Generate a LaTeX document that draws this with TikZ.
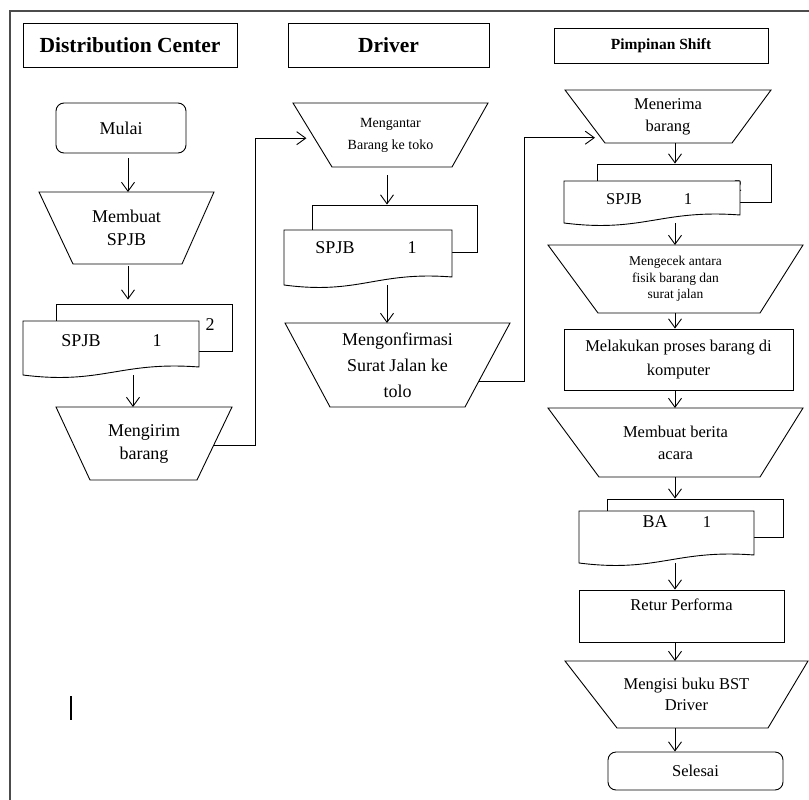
\documentclass[tikz,border=0pt]{standalone}
\usepackage{fontspec}
\setmainfont{Liberation Serif}
\usetikzlibrary{arrows.meta,calc}

\tikzset{
	lanehead/.style={draw, line width=0.9pt, font=\fontsize{21.5}{26}\selectfont\bfseries, inner sep=0pt},
	termnode/.style={draw, line width=0.9pt, rounded corners=8pt, inner sep=0pt},
	manop/.style={align=center, inner sep=0pt, outer sep=0pt},
	procnode/.style={draw, line width=0.9pt, align=center, inner sep=0pt},
	docback/.style={draw, line width=0.9pt, inner sep=0pt},
	docfront/.style={inner sep=0pt, outer sep=0pt},
	txtbig/.style={font=\fontsize{18}{23}\selectfont},
	txtmid/.style={font=\fontsize{16.5}{22}\selectfont},
	txtsmall/.style={font=\fontsize{14}{22}\selectfont},
	arr/.style={-{Straight Barb[length=9pt,width=13pt]}, line width=0.9pt},
}

\begin{document}
\begin{tikzpicture}[x=1pt,y=-1pt]

	\useasboundingbox (0,0) rectangle (809,800);

	% frame
	\draw[line width=1.6pt, black!70] (809,11) -- (10,11) -- (10,800);

	% lane headers
	\node[lanehead, minimum width=214pt, minimum height=44pt] (headDC) at (130,45) {Distribution Center};
	\node[lanehead, minimum width=201pt, minimum height=44pt] (headDrv) at (388.5,45) {Driver};
	\node[lanehead, minimum width=214pt, minimum height=35pt, font=\fontsize{15.5}{18}\selectfont\bfseries] (headPS) at (661,45.5) {Pimpinan Shift};

	% distribution center
	\node[termnode, txtbig, minimum width=130pt, minimum height=50pt] (mulai) at (121,128) {Mulai};
	\node[manop, txtbig, minimum width=175pt, minimum height=72pt] (membuatSpjb) at (126.5,228) {Membuat\\SPJB};
	\node[manop, txtbig, minimum width=176pt, minimum height=73pt] (mengirim) at (144,443.5) {Mengirim\\barang};

	% driver
	\node[manop, txtsmall, minimum width=195pt, minimum height=64pt] (mengantar) at (390.5,135) {Mengantar\\Barang ke toko};
	\node[manop, font=\fontsize{18}{26}\selectfont, minimum width=225pt, minimum height=84pt] (mengonfirmasi) at (397.5,365) {Mengonfirmasi\\Surat Jalan ke\\tolo};

	% pimpinan shift
	\node[manop, txtmid, minimum width=206pt, minimum height=53pt] (menerima) at (668,116.5) {Menerima\\barang};
	\node[manop, font=\fontsize{13.5}{16.5}\selectfont, minimum width=255pt, minimum height=68pt] (mengecek) at (675.5,279) {Mengecek antara\\fisik barang dan\\surat jalan};
	\node[procnode, font=\fontsize{16.5}{24}\selectfont, minimum width=229pt, minimum height=61pt] (melakukan) at (678.5,359.5) {Melakukan proses barang di\\komputer};
	\node[manop, txtmid, minimum width=255pt, minimum height=69pt] (membuatBa) at (675.5,442.5) {Membuat berita\\acara};
	\node[procnode, txtmid, minimum width=205pt, minimum height=52pt] (retur) at (681.5,616) {Retur Performa\\\mbox{}};
	\node[manop, font=\fontsize{16.5}{21}\selectfont, minimum width=243pt, minimum height=67pt] (mengisi) at (686.5,694.5) {Mengisi buku BST\\Driver};
	\node[termnode, txtmid, minimum width=175pt, minimum height=38pt] (selesai) at (695.5,771) {Selesai};

	% manual operation outlines (name/left inset/right inset)
	\foreach \n/\l/\r in {membuatSpjb/34/32, mengirim/34/35, mengantar/39/36, mengonfirmasi/45/45,
			menerima/40/39, mengecek/50/43, membuatBa/51/43, mengisi/52/40}
		\draw[line width=0.9pt] (\n.north west) -- (\n.north east) -- ([xshift=-\r pt]\n.south east) -- ([xshift=\l pt]\n.south west) -- cycle;

	% document stacks (copy 2 behind)
	\node[docback, minimum width=176pt, minimum height=47pt] (backA) at (144,327.5) {};
	\node[docback, minimum width=165pt, minimum height=47pt] (backB) at (394.5,228.5) {};
	\node[docback, minimum width=174pt, minimum height=38pt] (backC) at (684,183) {};
	\node[docback, minimum width=176pt, minimum height=38pt] (backD) at (695,518) {};
	\node[txtbig] (dupA) at (210,325) {2};
	\node[txtmid] (dupC) at (738,186) {2};
	\node[txtmid] (dupD) at (748,517) {2};

	% document stacks (copy 1 in front)
	\node[docfront, minimum width=176pt, minimum height=54pt] (docA) at (111,348) {};
	\node[docfront, minimum width=168pt, minimum height=55pt] (docB) at (368,257.5) {};
	\node[docfront, minimum width=176pt, minimum height=42pt] (docC) at (652,202) {};
	\node[docfront, minimum width=175pt, minimum height=52pt] (docD) at (666.5,537) {};
	\foreach \d in {docA,docB,docC,docD}
		\draw[line width=0.9pt, fill=white] (\d.north west) -- (\d.north east) -- ($(\d.south east)+(0,-8)$)
			.. controls ($(\d.south east)!0.45!(\d.south west)+(0,-14)$) and ($(\d.south east)!0.55!(\d.south west)+(0,10)$) .. (\d.south west) -- cycle;

	% document labels
	\node[txtbig] (spjbA) at (81,341) {SPJB};
	\node[txtbig] (noA) at (157,341) {1};
	\node[txtbig] (spjbB) at (335,248) {SPJB};
	\node[txtbig] (noB) at (412,248) {1};
	\node[txtmid] (spjbC) at (624,199) {SPJB};
	\node[txtmid] (noC) at (688,199) {1};
	\node[txtbig] (baD) at (655,522) {BA};
	\node[txtmid] (noD) at (707,522) {1};

	% stray cursor mark
	\draw[line width=1.4pt] (71,696) -- (71,720);

	% lanes and side points for the arrows
	\coordinate (laneA) at (128,0);
	\coordinate (laneA2) at (133,0);
	\coordinate (laneB) at (387,0);
	\coordinate (laneC) at (675,0);
	\coordinate (mengirimOut) at ($(mengirim.north east)!0.52!([xshift=-35pt]mengirim.south east)$);
	\coordinate (mengantarIn) at ($(mengantar.north west)!0.55!([xshift=39pt]mengantar.south west)$);
	\coordinate (mengonfirmasiOut) at ($(mengonfirmasi.north east)!0.69!([xshift=-45pt]mengonfirmasi.south east)$);
	\coordinate (menerimaIn) at ($(menerima.north west)!0.9!([xshift=40pt]menerima.south west)$);

	% arrows
	\draw[arr, shorten <=5pt] (mulai.south -| laneA) -- (membuatSpjb.north -| laneA);
	\draw[arr, shorten <=2pt, shorten >=4pt] (membuatSpjb.south -| laneA) -- (backA.north -| laneA);
	\draw[arr] (docA.south -| laneA2) -- (mengirim.north -| laneA2);
	\draw[arr, shorten >=8pt] (mengirimOut) -- ++(42,0) |- (mengantarIn);
	\draw[arr, shorten <=8pt] (mengantar.south -| laneB) -- (backB.north -| laneB);
	\draw[arr] (docB.south -| laneB) -- (mengonfirmasi.north -| laneB);
	\draw[arr, shorten >=6pt] (mengonfirmasiOut) -- ++(45,0) |- (menerimaIn);
	\foreach \a/\b in {menerima/backC, docC/mengecek, mengecek/melakukan, melakukan/membuatBa, membuatBa/backD, docD/retur, retur/mengisi, mengisi/selesai}
		\draw[arr] (\a.south -| laneC) -- (\b.north -| laneC);

\end{tikzpicture}
\end{document}
